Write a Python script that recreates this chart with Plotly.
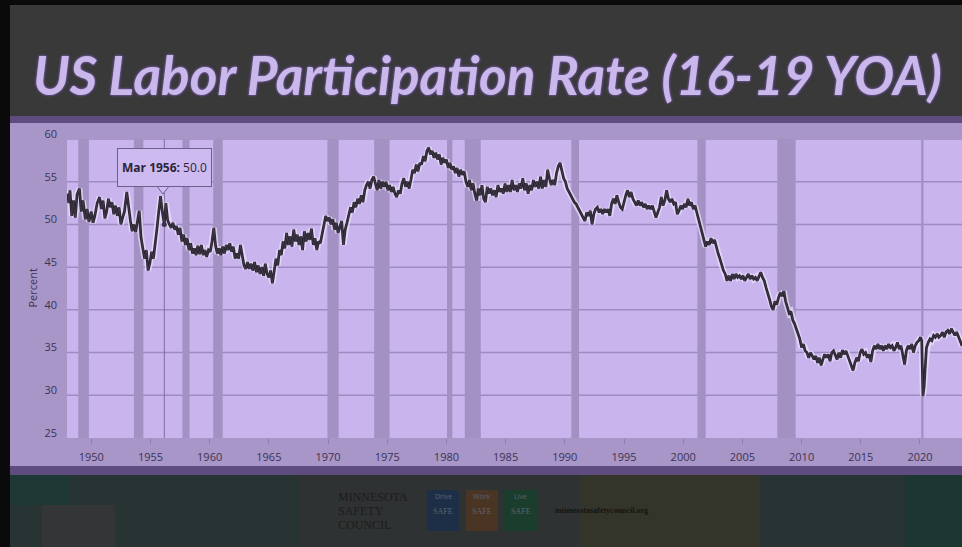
import plotly.graph_objects as go

# ---------------- data ----------------
years = [
1948.0,1948.1,1948.2,1948.35,1948.5,1948.65,1948.8,1949.0,1949.15,1949.3,1949.5,1949.65,1949.8,
1950.0,1950.15,1950.3,1950.5,1950.7,1950.85,1951.0,1951.15,1951.3,1951.45,1951.6,1951.75,1951.9,
1952.05,1952.2,1952.35,1952.5,1952.65,1952.8,1953.0,1953.15,1953.3,1953.45,1953.6,1953.75,1953.9,
1954.05,1954.2,1954.35,1954.5,1954.65,1954.8,1954.95,1955.1,1955.25,1955.4,1955.55,1955.7,1955.85,
1956.0,1956.17,1956.3,1956.45,1956.6,1956.75,1956.9,1957.05,1957.2,1957.35,1957.5,1957.65,1957.8,1957.95,
1958.1,1958.25,1958.4,1958.55,1958.7,1958.85,1959.0,1959.15,1959.3,1959.45,1959.6,1959.75,1959.9,
1960.05,1960.2,1960.35,1960.5,1960.65,1960.8,1960.95,1961.1,1961.25,1961.4,1961.55,1961.7,1961.85,
1962.0,1962.15,1962.3,1962.45,1962.6,1962.75,1962.9,1963.05,1963.2,1963.35,1963.5,1963.65,1963.8,1963.95,
1964.1,1964.25,1964.4,1964.55,1964.7,1964.85,1965.0,1965.15,1965.3,1965.45,1965.6,1965.75,1965.9,
1966.05,1966.2,1966.35,1966.5,1966.65,1966.8,1966.95,1967.1,1967.25,1967.4,1967.55,1967.7,1967.85,
1968.0,1968.15,1968.3,1968.45,1968.6,1968.75,1968.9,1969.05,1969.2,1969.35,1969.5,1969.65,1969.8,1969.95,
1970.1,1970.25,1970.4,1970.55,1970.7,1970.85,1971.0,1971.15,1971.3,1971.45,1971.6,1971.75,1971.9,
1972.05,1972.2,1972.35,1972.5,1972.65,1972.8,1972.95,1973.1,1973.25,1973.4,1973.55,1973.7,1973.85,
1974.0,1974.15,1974.3,1974.45,1974.6,1974.75,1974.9,1975.05,1975.2,1975.35,1975.5,1975.65,1975.8,1975.95,
1976.1,1976.25,1976.4,1976.55,1976.7,1976.85,1977.0,1977.15,1977.3,1977.45,1977.6,1977.75,1977.9,
1978.05,1978.2,1978.35,1978.5,1978.65,1978.8,1978.95,1979.1,1979.25,1979.4,1979.55,1979.7,1979.85,
1980.0,1980.15,1980.3,1980.45,1980.6,1980.75,1980.9,1981.05,1981.2,1981.35,1981.5,1981.65,1981.8,1981.95,
1982.1,1982.25,1982.4,1982.55,1982.7,1982.85,1983.0,1983.15,1983.3,1983.45,1983.6,1983.75,1983.9,
1984.05,1984.2,1984.35,1984.5,1984.65,1984.8,1984.95,1985.1,1985.25,1985.4,1985.55,1985.7,1985.85,
1986.0,1986.15,1986.3,1986.45,1986.6,1986.75,1986.9,1987.05,1987.2,1987.35,1987.5,1987.65,1987.8,1987.95,
1988.1,1988.25,1988.4,1988.55,1988.7,1988.85,1989.0,1989.15,1989.3,1989.45,1989.6,1989.75,1989.9,
1990.05,1990.2,1990.35,1990.5,1990.65,1990.8,1990.95,1991.1,1991.25,1991.4,1991.55,1991.7,1991.85,
1992.0,1992.15,1992.3,1992.45,1992.6,1992.75,1992.9,1993.05,1993.2,1993.35,1993.5,1993.65,1993.8,1993.95,
1994.1,1994.25,1994.4,1994.55,1994.7,1994.85,1995.0,1995.15,1995.3,1995.45,1995.6,1995.75,1995.9,
1996.05,1996.2,1996.35,1996.5,1996.65,1996.8,1996.95,1997.1,1997.25,1997.4,1997.55,1997.7,1997.85,
1998.0,1998.15,1998.3,1998.45,1998.6,1998.75,1998.9,1999.05,1999.2,1999.35,1999.5,1999.65,1999.8,1999.95,
2000.1,2000.25,2000.4,2000.55,2000.7,2000.85,2001.0,2001.15,2001.3,2001.45,2001.6,2001.75,2001.9,
2002.05,2002.2,2002.35,2002.5,2002.65,2002.8,2002.95,2003.1,2003.25,2003.4,2003.55,2003.7,2003.85,
2004.0,2004.15,2004.3,2004.45,2004.6,2004.75,2004.9,2005.05,2005.2,2005.35,2005.5,2005.65,2005.8,2005.95,
2006.1,2006.25,2006.4,2006.55,2006.7,2006.85,2007.0,2007.15,2007.3,2007.45,2007.6,2007.75,2007.9,
2008.05,2008.2,2008.35,2008.5,2008.65,2008.8,2008.95,2009.1,2009.25,2009.4,2009.55,2009.7,2009.85,
2010.0,2010.15,2010.3,2010.45,2010.6,2010.75,2010.9,2011.05,2011.2,2011.35,2011.5,2011.65,2011.8,2011.95,
2012.1,2012.25,2012.4,2012.55,2012.7,2012.85,2013.0,2013.15,2013.3,2013.45,2013.6,2013.75,2013.9,
2014.05,2014.2,2014.35,2014.5,2014.65,2014.8,2014.95,2015.1,2015.25,2015.4,2015.55,2015.7,2015.85,
2016.0,2016.15,2016.3,2016.45,2016.6,2016.75,2016.9,2017.05,2017.2,2017.35,2017.5,2017.65,2017.8,2017.95,
2018.1,2018.25,2018.4,2018.55,2018.7,2018.85,2019.0,2019.15,2019.3,2019.45,2019.6,2019.75,2019.9,
2020.05,2020.15,2020.25,2020.35,2020.45,2020.55,2020.7,2020.85,2021.0,2021.15,2021.3,2021.45,2021.6,2021.75,2021.9,
2022.05,2022.2,2022.35,2022.5,2022.65,2022.8,2022.95,2023.1,2023.25,2023.4,2023.55,
]
rate = [
53.6,52.5,54.0,51.0,52.8,50.8,53.5,54.2,51.5,52.8,50.6,51.8,50.3,
51.5,50.2,51.0,52.5,53.2,51.8,52.8,50.7,51.5,53.0,52.0,52.6,51.2,
52.2,51.0,52.0,50.0,50.8,51.5,53.8,52.0,50.5,49.2,50.0,49.1,50.5,
51.6,48.5,47.2,46.0,47.0,44.6,45.5,46.8,46.0,47.5,49.5,51.5,53.3,
51.5,50.0,52.5,50.5,50.0,49.6,50.2,49.4,49.8,48.8,49.6,48.0,48.8,47.6,
48.4,47.0,47.8,46.6,47.2,46.4,47.5,46.5,47.6,46.4,47.0,46.2,47.0,
46.8,48.0,49.6,47.5,46.6,47.2,46.4,47.4,46.6,47.6,47.0,47.8,46.8,
47.4,46.0,46.6,46.0,47.6,46.4,45.2,44.8,45.6,44.8,45.4,44.6,45.6,44.4,
45.2,44.2,45.0,44.0,45.4,44.2,43.8,44.6,43.1,44.5,46.0,45.2,47.0,
46.4,48.0,47.2,49.0,47.6,48.6,47.4,49.4,48.0,48.8,47.6,48.6,47.0,
49.2,48.0,49.0,48.2,49.5,47.6,48.4,47.0,48.0,47.8,49.0,49.8,51.0,50.4,
50.8,50.0,50.6,49.4,50.2,49.0,49.8,50.4,47.6,49.4,50.2,51.0,52.0,
51.4,52.6,52.0,53.0,52.4,53.4,52.6,54.0,54.6,55.0,54.2,55.2,55.6,
54.8,54.0,55.2,54.2,55.0,54.4,55.0,54.0,54.6,53.8,54.4,53.6,53.2,54.0,
53.6,54.8,55.4,54.4,55.0,54.2,55.2,56.4,56.0,57.0,56.2,57.2,57.0,
58.0,57.4,58.6,59.0,58.2,58.6,57.8,58.4,57.6,58.2,57.0,57.8,57.2,
57.6,56.6,57.2,56.4,56.8,56.0,56.6,55.6,56.4,55.8,56.2,55.0,54.4,55.2,
54.0,54.8,53.6,52.8,54.2,53.4,54.6,53.0,52.6,54.4,53.6,54.2,53.4,
54.0,53.2,54.6,53.8,54.2,53.6,54.8,53.8,54.6,53.8,55.2,54.0,54.6,
53.8,54.8,54.2,55.4,54.0,54.8,53.6,54.6,54.0,55.2,54.4,55.0,54.2,55.6,
54.2,55.2,54.4,56.4,55.4,54.6,55.2,54.6,56.0,56.8,57.2,56.2,55.4,
55.0,54.2,53.8,53.4,53.0,52.6,52.4,52.0,51.6,51.2,50.8,50.4,51.4,
51.0,51.6,50.0,51.2,51.8,52.0,51.4,51.8,51.2,51.8,51.4,51.8,51.0,52.4,
53.0,52.4,53.4,52.6,52.0,51.8,52.8,53.4,54.0,53.2,53.8,53.0,52.6,
52.2,52.8,52.2,52.6,52.0,52.4,51.8,52.2,51.8,52.2,51.4,50.8,51.4,
52.0,53.2,52.2,52.8,54.0,53.0,52.6,53.0,52.4,52.6,51.2,51.6,52.2,51.8,
52.4,52.0,53.0,52.2,52.6,51.8,52.2,51.4,50.6,49.8,49.2,48.2,47.4,
48.0,47.6,48.4,47.8,48.2,47.2,46.6,46.0,45.2,44.6,44.2,43.4,44.0,
43.4,44.2,43.6,44.2,43.8,44.0,43.6,44.0,43.4,43.8,44.2,43.6,44.0,43.6,
43.8,43.4,44.0,44.4,43.8,43.4,42.6,42.0,41.2,40.4,40.0,41.0,40.6,
41.4,42.0,41.6,42.2,41.0,40.2,39.6,39.8,38.8,38.4,37.8,37.2,36.6,
35.6,36.0,35.2,35.0,34.4,35.0,34.6,34.2,34.6,33.8,34.4,33.5,34.2,34.8,
34.4,34.8,34.0,35.0,35.2,34.6,34.2,35.0,34.4,35.3,34.8,35.2,34.6,
34.0,33.6,32.9,33.8,34.4,34.0,35.0,35.4,34.8,35.0,34.4,34.8,33.9,
35.2,35.8,35.4,36.0,35.4,35.8,35.2,35.8,35.4,36.0,35.6,35.8,35.2,35.6,
36.2,35.4,35.8,34.8,33.6,35.2,35.8,35.4,36.0,35.0,35.8,36.2,36.4,
36.8,36.4,29.9,31.0,33.4,35.6,36.2,36.6,36.4,37.0,36.8,37.2,36.8,37.0,37.4,
36.8,37.4,37.6,37.2,37.8,37.4,37.0,37.4,36.8,36.2,35.8,
]

recession_start = [1948.9, 1953.6, 1957.7, 1960.3, 1969.95, 1973.9, 1980.05, 1981.55, 1990.55, 2001.2, 2007.95, 2020.1]
recession_end   = [1949.8, 1954.4, 1958.3, 1961.1, 1970.9, 1975.2, 1980.5, 1982.9, 1991.2, 2001.9, 2009.5, 2020.3]

x_ticks = [1950, 1955, 1960, 1965, 1970, 1975, 1980, 1985, 1990, 1995, 2000, 2005, 2010, 2015, 2020]
y_ticks = [25, 30, 35, 40, 45, 50, 55, 60]

tooltip_year = 1956.17
tooltip_value = 50.0
tooltip_label = "Mar 1956"

title_text = "US Labor Participation Rate (16-19 YOA)"

# ---------------- geometry helpers (pixels -> paper) ----------------
W, H = 962, 547
L, R, T, B = 67, 962, 139, 438


def px(x):
    return (x - L) / (R - L)


def py(y):
    return (B - y) / (B - T)


PLOT_BG = "#c9b4ee"
PANEL = "#a796c7"
BAR = "#a391c3"
GRID = "#9f8bc1"

fig = go.Figure()

# halo under the line
fig.add_trace(go.Scatter(x=years, y=rate, mode="lines",
                         line=dict(color="rgba(236,228,252,0.7)", width=6),
                         hoverinfo="skip", showlegend=False))
fig.add_trace(go.Scatter(x=years, y=rate, mode="lines",
                         line=dict(color="#29222f", width=2.7),
                         showlegend=False))
fig.add_trace(go.Scatter(x=years, y=rate, mode="lines",
                         line=dict(color="rgba(90,82,100,0.55)", width=0.8),
                         hoverinfo="skip", showlegend=False))
fig.add_trace(go.Scatter(x=[tooltip_year], y=[tooltip_value], mode="markers",
                         marker=dict(color="#3a3346", size=5),
                         showlegend=False))

shapes = []
# horizontal gridlines (drawn first so recession bars sit on top)
for v in y_ticks[1:]:
    shapes.append(dict(type="line", xref="x domain", yref="y", x0=0, x1=1, y0=v, y1=v,
                       line=dict(color=GRID, width=1.5), layer="below"))
# recession bars
for s, e in zip(recession_start, recession_end):
    shapes.append(dict(type="rect", xref="x", yref="y domain", x0=s, x1=e, y0=0, y1=1,
                       fillcolor=BAR, line=dict(width=0), layer="below"))
# crosshair
shapes.append(dict(type="line", xref="x", yref="y domain", x0=tooltip_year, x1=tooltip_year,
                   y0=0, y1=1, line=dict(color="#7d6d9a", width=1), layer="below"))


def prect(x0, y0, x1, y1, color):
    shapes.append(dict(type="rect", xref="paper", yref="paper",
                       x0=px(x0), x1=px(x1), y0=py(y1), y1=py(y0),
                       fillcolor=color, line=dict(width=0), layer="below"))


# black frame
prect(0, 0, W, 5, "#0a0a0a")
prect(0, 0, 10, H, "#0a0a0a")
# title band
prect(10, 5, W, 116, "#393939")
# dark purple strips
prect(10, 116, W, 123, "#5d4c7d")
prect(10, 466, W, 475, "#5d4c7d")
# footer
prect(10, 475, W, H, "#283433")
prect(10, 475, 70, 505, "#1e3836")
prect(42, 505, 115, H, "#333536")
prect(300, 475, 580, H, "#2e3233")
prect(580, 475, 760, H, "#33352a")
prect(905, 475, W, H, "#1c3731")
# logo boxes
prect(427, 490, 459, 531, "#1c2f47")
prect(466, 490, 498, 531, "#4a3424")
prect(504, 490, 537, 531, "#1b3d2e")

# tooltip pointer
shapes.append(dict(type="path", xref="paper", yref="paper",
                   path=f"M {px(156)},{py(185)} L {px(170)},{py(185)} L {px(163)},{py(194)} Z",
                   fillcolor="#cdbaf0", line=dict(color="#6e5f8a", width=1), layer="above"))

annotations = []
annotations.append(dict(xref="paper", yref="paper", x=px(487), y=py(75), text=title_text,
                        showarrow=False, xanchor="center", yanchor="middle",
                        font=dict(family="Lato", size=53, color="#cbb8ea", weight="bold", style="italic",
                                  shadow="0px 0px 3px #7a5cb4, 0px 0px 2px #7a5cb4")))
annotations.append(dict(xref="paper", yref="paper", x=px(22), y=py(288), text="Percent",
                        showarrow=False, textangle=-90,
                        font=dict(family="Open Sans", size=11, color="#3d3452")))
annotations.append(dict(xref="paper", yref="paper", x=px(164.5), y=py(167),
                        text=f"<b>{tooltip_label}:</b> {tooltip_value:.1f}",
                        showarrow=False, xanchor="center", yanchor="middle",
                        width=85, height=29, borderpad=4,
                        bgcolor="#cdbaf0", bordercolor="#6e5f8a", borderwidth=1,
                        font=dict(family="Open Sans", size=12, color="#2c2438")))
# footer texts
for i, word in enumerate(["MINNESOTA", "SAFETY", "COUNCIL"]):
    annotations.append(dict(xref="paper", yref="paper", x=px(336), y=py(497 + i * 14), text=word,
                            showarrow=False, xanchor="left", yanchor="middle",
                            font=dict(family="Liberation Serif", size=12, color="#1c1c1c")))
for cx, top, bot in [(443, "Drive", "SAFE"), (482, "Work", "SAFE"), (520.5, "Live", "SAFE")]:
    annotations.append(dict(xref="paper", yref="paper", x=px(cx), y=py(503), text=top,
                            showarrow=False, font=dict(family="Open Sans", size=7, color="#5c6270")))
    annotations.append(dict(xref="paper", yref="paper", x=px(cx), y=py(518), text=bot,
                            showarrow=False, font=dict(family="Liberation Serif", size=8, color="#5c6270")))
annotations.append(dict(xref="paper", yref="paper", x=px(553), y=py(510), text="<b>minnesotasafetycouncil.org</b>",
                        showarrow=False, xanchor="left", yanchor="middle",
                        font=dict(family="Liberation Sans Narrow", size=8, color="#141414")))

fig.update_layout(
    width=W, height=H, autosize=False,
    margin=dict(l=L, r=W - R, t=T, b=H - B, pad=0),
    paper_bgcolor=PANEL, plot_bgcolor=PLOT_BG,
    shapes=shapes, annotations=annotations,
    showlegend=False, hovermode=False,
    xaxis=dict(range=[1947.95, 2023.55], tickmode="array", tickvals=x_ticks,
               showgrid=False, zeroline=False, ticks="outside", ticklen=5, tickcolor="#8f7fb0",
               tickfont=dict(family="Open Sans", size=11, color="#3d3452"),
               ticklabelstandoff=4, showline=False),
    yaxis=dict(range=[25, 60], tickmode="array", tickvals=y_ticks,
               showgrid=False, zeroline=False,
               tickfont=dict(family="Open Sans", size=11, color="#3d3452"),
               ticks="", ticklabelstandoff=9, ticklabelshift=-5, showline=False),
)

fig.write_html("out.html", config={"displayModeBar": False},
               post_script="document.body.style.margin='0px';")
